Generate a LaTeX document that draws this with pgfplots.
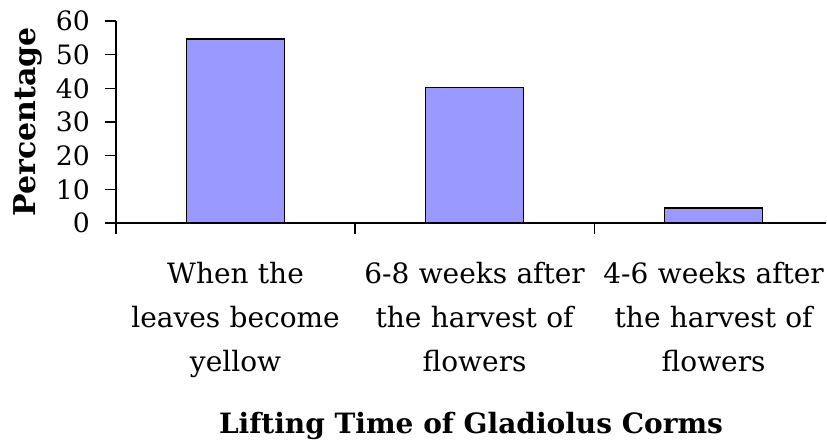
\documentclass[border=0pt]{standalone}
\usepackage{fontspec}
\setmainfont{DejaVu Serif}
\usepackage{pgfplots}
\pgfplotsset{compat=1.18}
\definecolor{barblue}{HTML}{9999FF}
\begin{document}
\begin{tikzpicture}
\useasboundingbox (-87pt,-165pt) rectangle (533.25pt,167.25pt);
\begin{axis}[
  scale only axis,
  width=532.5pt, height=151.5pt,
  xmin=-0.5, xmax=2.47,
  ymin=0, ymax=60,
  axis x line=bottom, axis y line=left,
  axis line style={line width=1.1pt, -},
  ytick={0,10,...,60},
  xtick={0,1,2},
  xticklabels={When the\\leaves become\\yellow, 6-8 weeks after\\the harvest of\\flowers, 4-6 weeks after\\the harvest of\\flowers},
  minor xtick={-0.5,0.5,1.5},
  tick align=outside,
  major tick length=8pt,
  minor tick length=8pt,
  x tick style={draw=none},
  minor x tick style={draw=black, line width=0.9pt},
  y tick style={black, line width=0.9pt},
  /pgf/number format/assume math mode=true,
  yticklabel style={font=\fontsize{20}{22}\selectfont, inner sep=0pt, anchor=east, xshift=-11.5pt},
  xticklabel style={font=\fontsize{21}{33}\selectfont, text width=180pt, align=center, inner sep=0pt, anchor=north, yshift=-21.5pt},
  xlabel={\textbf{Lifting Time of Gladiolus Corms}},
  xlabel style={font=\fontsize{21}{25}\selectfont, at={(axis description cs:0.5,-1.04)}, anchor=base},
  ylabel={\textbf{Percentage}},
  ylabel style={font=\fontsize{22.5}{25}\selectfont, at={(axis description cs:-0.1127,0.5)}, anchor=base},
  ybar, bar width=0.41, bar shift=0pt,
  clip=false,
]
\addplot[fill=barblue, draw=black, line width=1.1pt] coordinates {(0,54.6) (1,40.2) (2,4.5)};
\end{axis}
\end{tikzpicture}
\end{document}
